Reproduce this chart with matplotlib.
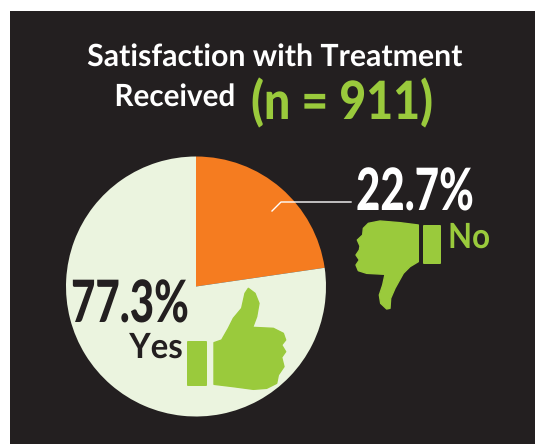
import matplotlib
matplotlib.use('Agg')
import matplotlib.pyplot as plt
import matplotlib.patheffects as pe
from matplotlib.patches import Polygon, FancyBboxPatch
from matplotlib.transforms import Affine2D

labels = ['No', 'Yes']
values = [22.7, 77.3]
pie_colors = ['#f57c20', '#ebf4df']
title_top = 'Satisfaction with Treatment'
title_left = 'Received'
n_label = '(n = 911)'
no_pct = '22.7%'
yes_pct = '77.3%'

BG = '#231f20'
GREEN = '#9aca3c'
FONT = 'Lato'

# thumb icons, traced in pixels of the picture
down_hand = [(235,195),(180,188),(120,183),(85,190),(70,205),(68,225),(52,240),(60,258),(58,270),
             (48,285),(58,300),(48,315),(55,332),(80,340),(135,343),(128,375),(118,405),(122,430),
             (140,447),(150,445),(152,415),(165,385),(190,340),(210,320),(235,305)]
up_hand = [(462,218),(485,210),(505,175),(520,145),(545,115),(555,70),(565,55),(585,70),(597,100),
           (590,140),(578,172),(640,175),(670,190),(677,210),(665,225),(677,245),(665,262),(672,290),
           (655,315),(650,340),(620,355),(580,358),(520,350),(462,343)]


# squeezes a text sideways, the original uses a condensed face
class Narrow(pe.AbstractPathEffect):
    def __init__(self, sx, x0):
        super().__init__()
        self.sx = sx
        self.x0 = x0

    def draw_path(self, renderer, gc, tpath, affine, rgbFace=None):
        squeeze = Affine2D().translate(-self.x0, 0).scale(self.sx, 1).translate(self.x0, 0)
        renderer.draw_path(gc, tpath, affine + squeeze, rgbFace)


def label(ax, x, y, s, color, size, sx, weight='bold'):
    ax.text(x, y, s, color=color, fontsize=size, fontweight=weight, family=FONT, ha='center',
            va='baseline', path_effects=[Narrow(sx, x)])


fig = plt.figure(figsize=(5.35, 4.44), dpi=100, facecolor='white')

# background panel in pixel coordinates
bg = fig.add_axes([0, 0, 1, 1])
bg.set_xlim(0, 535)
bg.set_ylim(444, 0)
bg.axis('off')
bg.add_patch(plt.Rectangle((10, 11), 525, 433, color=BG, lw=0))

# pie
cx, cy, r = 196, 286.5, 130
pie_ax = fig.add_axes([(cx - r) / 535, 1 - (cy + r) / 444, 2 * r / 535, 2 * r / 444])
pie_ax.pie(values, colors=pie_colors, startangle=90, counterclock=False, radius=1)
pie_ax.set_xlim(-1, 1)
pie_ax.set_ylim(-1, 1)
pie_ax.patch.set_alpha(0)

ov = fig.add_axes([0, 0, 1, 1])
ov.set_xlim(0, 535)
ov.set_ylim(444, 0)
ov.axis('off')
ov.patch.set_alpha(0)

label(ov, 274.5, 66, title_top, 'white', 22, 0.99)
label(ov, 175, 106, title_left, 'white', 22, 0.97)
label(ov, 342, 119, n_label, GREEN, 38, 0.88, weight=900)

label(ov, 415, 210, no_pct, 'white', 42, 0.72, weight=900)
label(ov, 469, 248, labels[0], GREEN, 25, 0.90)
label(ov, 130, 322, yes_pct, BG, 42, 0.72, weight=900)
label(ov, 156, 358, labels[1], BG, 25, 0.95)

ov.plot([272, 281, 351], [211, 202, 202], color='white', lw=1)

# thumbs, thin round edge takes the corners off the traced outline
ov.add_patch(Polygon([(340 + x / 3, 160 + y / 3) for x, y in down_hand], closed=True, fc=GREEN, ec=GREEN, lw=1, joinstyle='round'))
ov.add_patch(FancyBboxPatch((423, 225), 18, 39, boxstyle='round,pad=0,rounding_size=1', color=GREEN, lw=0))
ov.add_patch(Polygon([(60 + x / 3, 270 + y / 3) for x, y in up_hand], closed=True, fc=GREEN, ec=GREEN, lw=1, joinstyle='round'))
ov.add_patch(FancyBboxPatch((187, 341), 20, 45, boxstyle='round,pad=0,rounding_size=1', color=GREEN, lw=0))

fig.savefig('out.png', dpi=100, facecolor='white')
